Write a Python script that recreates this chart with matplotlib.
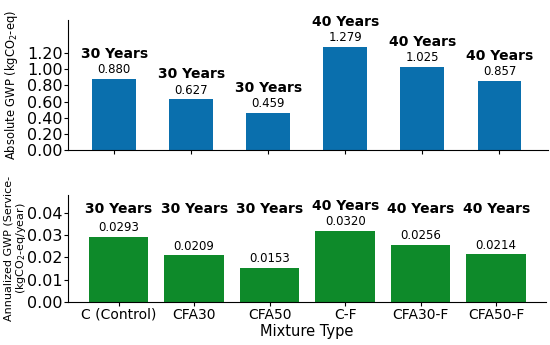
import matplotlib
matplotlib.use("Agg")
import matplotlib.pyplot as plt

categories = ["C (Control)", "CFA30", "CFA50", "C-F", "CFA30-F", "CFA50-F"]
service_life = ["30 Years", "30 Years", "30 Years", "40 Years", "40 Years", "40 Years"]
absolute_gwp = [0.880, 0.627, 0.459, 1.279, 1.025, 0.857]
annualized_gwp = [0.0293, 0.0209, 0.0153, 0.0320, 0.0256, 0.0214]
abs_ticks = [0.0, 0.2, 0.4, 0.6, 0.8, 1.0, 1.2]
ann_ticks = [0.00, 0.01, 0.02, 0.03, 0.04]

BLUE = "#0A6FAD"
GREEN = "#0E8A2A"

W, H = 550, 345
fig = plt.figure(figsize=(5.5, 3.45), dpi=100)

def ax_rect(l, t, r, b):
    return [l / W, 1 - b / H, (r - l) / W, (b - t) / H]

ax1 = fig.add_axes(ax_rect(68, 20, 548, 150))
ax2 = fig.add_axes(ax_rect(68, 195, 546, 302))

x = list(range(len(categories)))

# Top panel
ax1.bar(x, absolute_gwp, width=0.57, color=BLUE)
ax1.set_xlim(-0.6, 5.63)
ax1.set_ylim(0, 1.61)
ax1.set_yticks(abs_ticks)
ax1.set_yticklabels([f"{v:.2f}" for v in abs_ticks], fontsize=11.5)
ax1.set_xticks(x)
ax1.set_xticklabels([])
ax1.set_ylabel("Absolute GWP (kgCO$_2$-eq)", fontsize=8.3)
ax1.yaxis.set_label_coords(-0.1, 0.5)
for xi, v, s in zip(x, absolute_gwp, service_life):
    ax1.annotate(f"{v:.3f}", (xi, v), xytext=(0, 2), textcoords="offset points",
                 ha="center", va="bottom", fontsize=8.5)
    ax1.annotate(s, (xi, v), xytext=(0, 13), textcoords="offset points",
                 ha="center", va="bottom", fontsize=10, fontweight="bold")

# Bottom panel
ax2.bar(x, annualized_gwp, width=0.79, color=GREEN)
ax2.set_xlim(-0.67, 5.66)
ax2.set_ylim(0, 0.048)
ax2.set_yticks(ann_ticks)
ax2.set_yticklabels([f"{v:.2f}" for v in ann_ticks], fontsize=11.5)
ax2.set_xticks(x)
ax2.set_xticklabels(categories, fontsize=10)
ax2.set_xlabel("Mixture Type", fontsize=10.5, labelpad=2)
ax2.set_ylabel("Annualized GWP (Service-\n(kgCO$_2$-eq/year)", fontsize=8.0,
               linespacing=1.0)
ax2.yaxis.set_label_coords(-0.084, 0.5)
for xi, v, s in zip(x, annualized_gwp, service_life):
    ax2.annotate(f"{v:.4f}", (xi, v), xytext=(0, 2), textcoords="offset points",
                 ha="center", va="bottom", fontsize=8.5)
    ytxt = max(0.0418, v + 0.0112)
    ax2.text(xi, ytxt, s, ha="center", va="center", fontsize=10, fontweight="bold")

for ax in (ax1, ax2):
    ax.spines["top"].set_visible(False)
    ax.spines["right"].set_visible(False)
    ax.tick_params(axis="both", length=3, pad=1)

fig.savefig("out.png", dpi=100)
